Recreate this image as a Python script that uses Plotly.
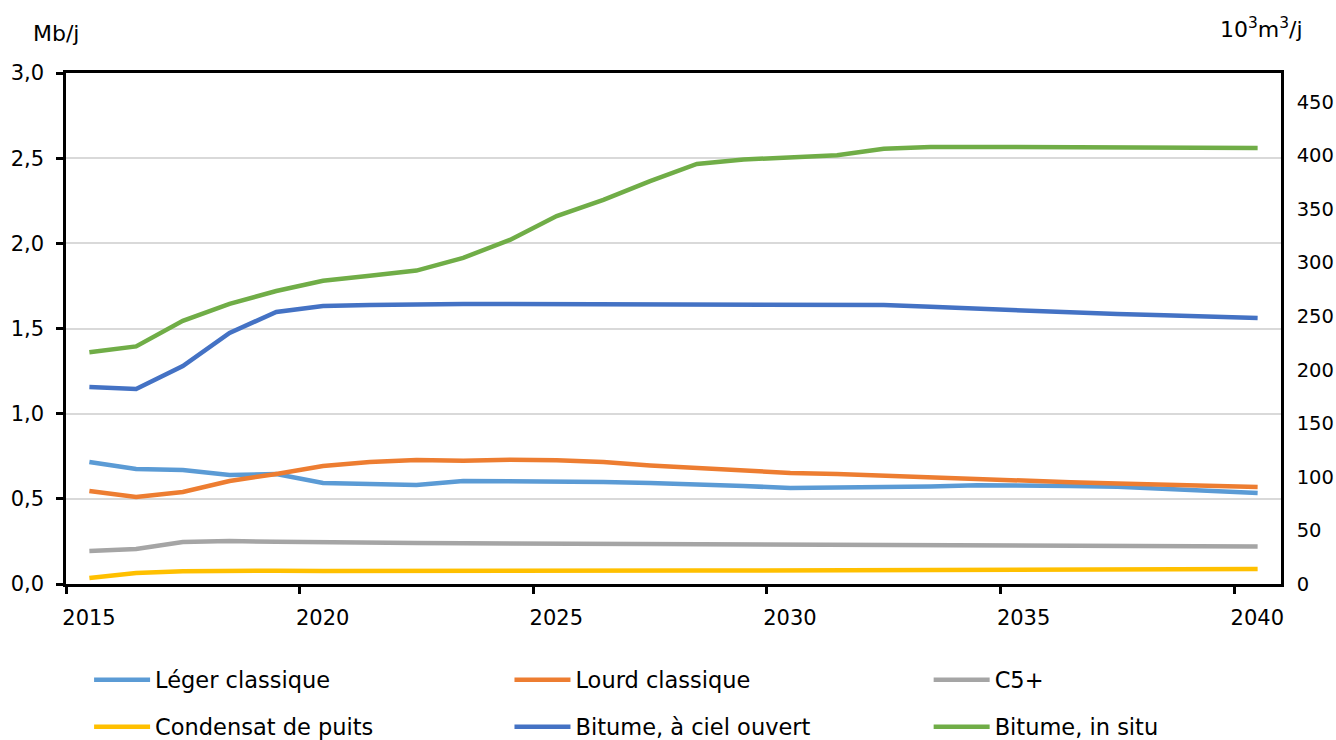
import plotly.graph_objects as go

years = list(range(2015, 2041))
tick_years = [2015, 2020, 2025, 2030, 2035, 2040]

leger_classique = [0.716, 0.675, 0.669, 0.640, 0.646, 0.593, 0.587, 0.581, 0.605, 0.605,
                   0.605, 0.599, 0.593, 0.581, 0.575, 0.564, 0.566, 0.568, 0.572, 0.580,
                   0.581, 0.576, 0.571, 0.560, 0.548, 0.534]
lourd_classique = [0.546, 0.511, 0.540, 0.605, 0.646, 0.693, 0.716, 0.728, 0.724, 0.730,
                   0.726, 0.716, 0.696, 0.681, 0.666, 0.652, 0.646, 0.636, 0.624, 0.613,
                   0.605, 0.597, 0.590, 0.583, 0.576, 0.570]
c5_plus = [0.194, 0.205, 0.247, 0.252, 0.248, 0.244, 0.242, 0.240, 0.239, 0.238,
           0.236, 0.235, 0.234, 0.231, 0.230, 0.229, 0.228, 0.227, 0.226, 0.225,
           0.224, 0.223, 0.222, 0.222, 0.221, 0.220]
condensat = [0.035, 0.065, 0.075, 0.078, 0.078, 0.077, 0.078, 0.078, 0.078, 0.078,
             0.079, 0.079, 0.079, 0.079, 0.079, 0.080, 0.080, 0.081, 0.081, 0.082,
             0.083, 0.084, 0.085, 0.086, 0.087, 0.088]
bitume_ciel = [1.157, 1.145, 1.280, 1.474, 1.597, 1.632, 1.638, 1.644, 1.644, 1.644,
               1.644, 1.644, 1.644, 1.644, 1.644, 1.644, 1.644, 1.638, 1.627, 1.615,
               1.603, 1.591, 1.585, 1.578, 1.572, 1.562]
bitume_situ = [1.360, 1.395, 1.545, 1.645, 1.720, 1.780, 1.810, 1.840, 1.915, 2.020,
               2.160, 2.255, 2.365, 2.466, 2.492, 2.507, 2.517, 2.555, 2.566, 2.566,
               2.566, 2.563, 2.563, 2.562, 2.560, 2.560]

series_names = ["Léger classique", "Lourd classique", "C5+",
                "Condensat de puits", "Bitume, à ciel ouvert", "Bitume, in situ"]
series_values = [leger_classique, lourd_classique, c5_plus,
                 condensat, bitume_ciel, bitume_situ]
series_colors = ["#5B9BD5", "#ED7D31", "#A5A5A5", "#FFC000", "#4472C4", "#70AD47"]

# legend placement (paper coords): 3 columns x 2 rows
legend_x = [0.019, 0.365, 0.710]
legend_y = [-0.188, -0.280]

x_mid = [y + 0.5 for y in years]

FONT = "DejaVu Sans"
fig = go.Figure()
legend_layouts = {}
for i, (name, vals, color) in enumerate(zip(series_names, series_values, series_colors)):
    key = "legend" if i == 0 else f"legend{i + 1}"
    fig.add_trace(go.Scatter(x=x_mid, y=vals, name=name, mode="lines",
                             line=dict(color=color, width=4.5), legend=key,
                             showlegend=True))
    legend_layouts[key] = dict(
        orientation="h", x=legend_x[i % 3], y=legend_y[i // 3],
        xanchor="left", yanchor="middle", itemwidth=56,
        font=dict(size=22.5, family=FONT, color="#000000"),
        bgcolor="rgba(0,0,0,0)")
fig.add_trace(go.Scatter(x=[], y=[], yaxis="y2", showlegend=False, hoverinfo="skip"))

fig.update_layout(
    width=1336, height=740,
    showlegend=True,
    margin=dict(l=66, r=55, t=73, b=156, autoexpand=False),
    plot_bgcolor="white", paper_bgcolor="white",
    separators=",.",
    font=dict(family=FONT, size=21, color="#000000"),
    xaxis=dict(range=[2015, 2041], tickvals=tick_years, ticktext=[str(t) for t in tick_years],
               ticklabelshift=23, ticklabelstandoff=6,
               showgrid=False, showline=True, linecolor="black", linewidth=2.5,
               mirror=True, ticks="outside", ticklen=7, tickwidth=2.5, tickcolor="black",
               zeroline=False, automargin=False),
    yaxis=dict(range=[0, 3.0], dtick=0.5, tickformat=".1f", showgrid=True,
               gridcolor="#D9D9D9", gridwidth=2, showline=True, linecolor="black",
               linewidth=2.5, ticks="outside", ticklen=7, tickwidth=2.5, tickcolor="black",
               ticklabelstandoff=8, zeroline=False, automargin=False),
    yaxis2=dict(range=[0, 477], dtick=50, overlaying="y", side="right",
                showgrid=False, showline=True, linecolor="black", linewidth=2.5,
                ticks="", ticklabelstandoff=9, zeroline=False, automargin=False,
                tickfont=dict(size=19.5)),
    annotations=[
        dict(text="Mb/j", xref="paper", yref="paper", x=-0.008, y=1.078,
             xanchor="center", yanchor="middle", showarrow=False, font=dict(size=22)),
        dict(text="10<sup>3</sup>m<sup>3</sup>/j", xref="paper", yref="paper", x=0.984,
             y=1.088, xanchor="center", yanchor="middle", showarrow=False, font=dict(size=22)),
    ],
    **legend_layouts,
)

fig.write_html(
    "out.html",
    config={"displayModeBar": False},
    post_script="document.body.style.margin='0';document.body.style.overflow='hidden';",
)
